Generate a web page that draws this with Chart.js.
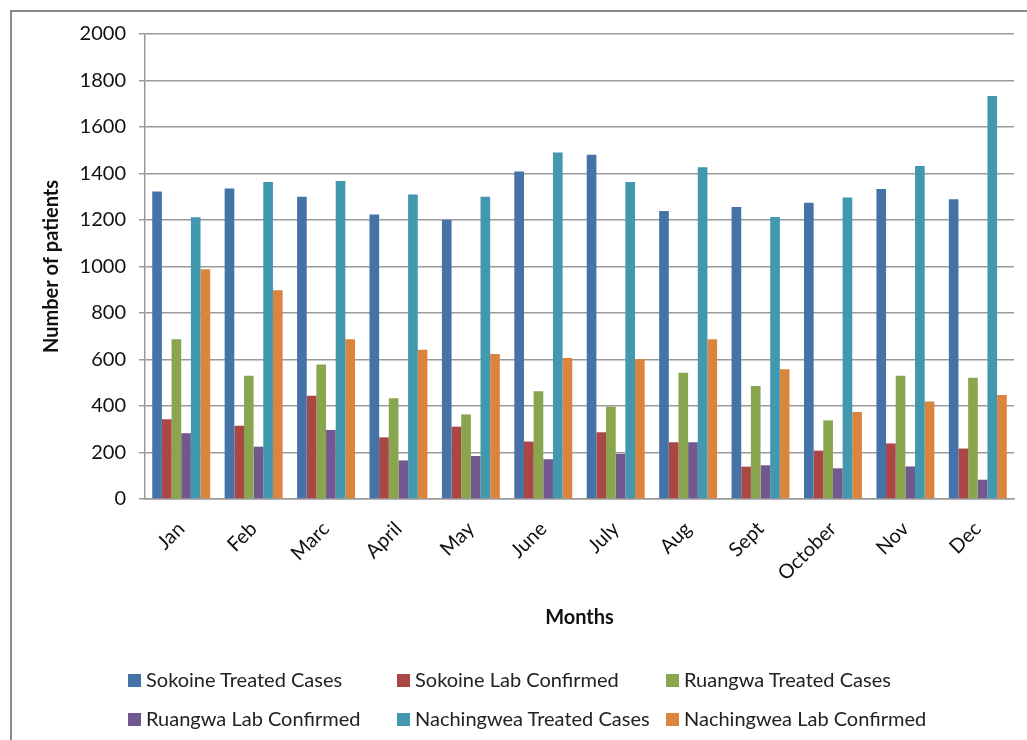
<!DOCTYPE html>
<html>
<head>
<meta charset="utf-8">
<script src="https://cdn.jsdelivr.net/npm/chart.js@4"></script>
<style>
  body { margin: 0; background: #fff; }
  #wrap { position: relative; width: 1027px; height: 740px; overflow: hidden; }
  #frame {
    position: absolute; left: 10px; top: 10px; width: 1100px; height: 800px;
    border-left: 2px solid #8a8a8a; border-top: 2px solid #8a8a8a;
  }
  #chart { position: absolute; left: 0; top: 0; }
  .legend-item {
    position: absolute; font-family: Lato, sans-serif; font-size: 20px; color: #222;
    white-space: nowrap; line-height: 20px;
  }
  .legend-item span.box {
    display: inline-block; width: 13px; height: 13px; margin-right: 5px; vertical-align: 0px;
  }
</style>
</head>
<body>
<div id="wrap">
  <div id="frame"></div>
  <canvas id="chart" width="1027" height="740"></canvas>
  <div id="legend"></div>
</div>
<script>
const months = ["Jan", "Feb", "Marc", "April", "May", "June", "July", "Aug", "Sept", "October", "Nov", "Dec"];
const yTicks = [0, 200, 400, 600, 800, 1000, 1200, 1400, 1600, 1800, 2000];

const sokoineTreated = [1323, 1336, 1300, 1224, 1200, 1409, 1481, 1239, 1256, 1274, 1333, 1289];
const sokoineLab = [343, 315, 444, 265, 311, 247, 287, 244, 139, 208, 239, 217];
const ruangwaTreated = [687, 530, 579, 433, 364, 463, 397, 543, 486, 338, 530, 521];
const ruangwaLab = [283, 225, 297, 166, 185, 171, 194, 244, 145, 132, 140, 83];
const nachingweaTreated = [1212, 1363, 1368, 1310, 1300, 1490, 1363, 1427, 1213, 1297, 1432, 1733];
const nachingweaLab = [988, 898, 687, 642, 624, 606, 601, 687, 558, 374, 419, 447];

const seriesNames = [
  "Sokoine Treated Cases", "Sokoine Lab Confirmed", "Ruangwa Treated Cases",
  "Ruangwa Lab Confirmed", "Nachingwea Treated Cases", "Nachingwea Lab Confirmed"
];
const seriesData = [sokoineTreated, sokoineLab, ruangwaTreated, ruangwaLab, nachingweaTreated, nachingweaLab];
const seriesColors = ["#4572A7", "#AA4643", "#89A54E", "#71588F", "#4198AF", "#DB843D"];

const gridColor = "#9a9a9a";
const font = "Lato, sans-serif";

const chart = new Chart(document.getElementById("chart"), {
  type: "bar",
  data: {
    labels: months,
    datasets: seriesNames.map((name, i) => ({
      label: name,
      data: seriesData[i],
      backgroundColor: seriesColors[i],
      borderWidth: 0,
      categoryPercentage: 0.8,
      barPercentage: 1.0,
    })),
  },
  options: {
    responsive: false,
    animation: false,
    layout: { padding: { left: 0, right: 13, top: 34, bottom: 100 } },
    plugins: {
      legend: { display: false },
      tooltip: { enabled: false },
    },
    scales: {
      x: {
        grid: { display: false, drawTicks: false },
        border: { color: gridColor, width: 1.5 },
        ticks: {
          color: "#111",
          font: { family: font, size: 20 },
          minRotation: 45,
          maxRotation: 45,
          padding: 18,
        },
        title: {
          display: true,
          text: "Months",
          color: "#111",
          font: { family: font, size: 20, weight: "bold" },
          padding: { top: 0, bottom: 10 },
        },
        afterFit: (scale) => { scale.height = 141; },
      },
      y: {
        min: 0,
        max: 2000,
        afterBuildTicks: (scale) => { scale.ticks = yTicks.map((v) => ({ value: v })); },
        grid: { color: gridColor, lineWidth: 1.5, tickLength: 6 },
        border: { color: gridColor, width: 1.5 },
        ticks: {
          color: "#111",
          font: { family: font, size: 20 },
          padding: 13,
          callback: (v) => String(v),
        },
        title: {
          display: true,
          text: "Number of patients",
          color: "#111",
          font: { family: font, size: 20, weight: "bold" },
          padding: { top: 40, bottom: 0 },
        },
        afterFit: (scale) => { scale.width = 145; },
      },
    },
  },
});

// Legend in two rows of three, built from the chart's datasets
const legendCols = [128, 397, 666];
const legendRows = [669, 708];
const legend = document.getElementById("legend");
chart.data.datasets.forEach((ds, i) => {
  const item = document.createElement("div");
  item.className = "legend-item";
  item.style.left = legendCols[i % 3] + "px";
  item.style.top = legendRows[Math.floor(i / 3)] + "px";
  const box = document.createElement("span");
  box.className = "box";
  box.style.background = ds.backgroundColor;
  item.appendChild(box);
  item.appendChild(document.createTextNode(ds.label));
  legend.appendChild(item);
});
</script>
</body>
</html>
